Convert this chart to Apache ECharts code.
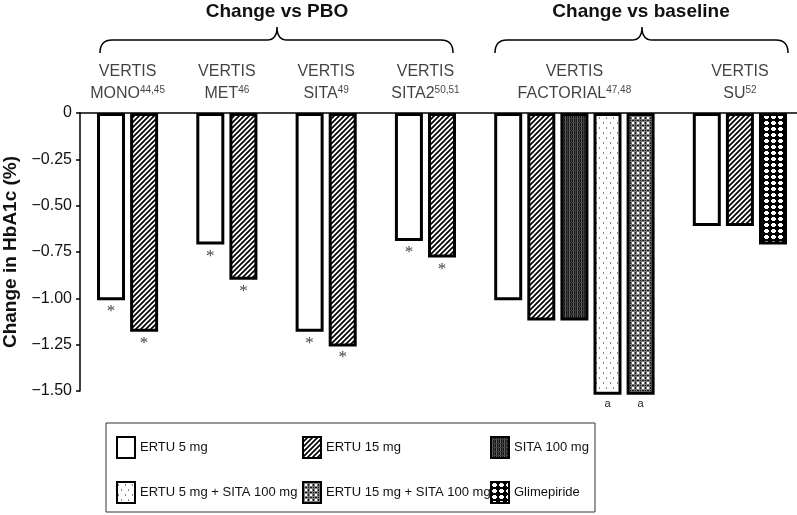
<!DOCTYPE html>
<html>
<head>
<meta charset="utf-8">
<script src="https://cdn.jsdelivr.net/npm/echarts@6/dist/echarts.min.js"></script>
<style>
  html, body { margin: 0; padding: 0; background: #fff; }
  #chart { width: 797px; height: 515px; }
</style>
</head>
<body>
<div id="chart"></div>
<script>
// study groups and their reference numbers
const groups = ['MONO', 'MET', 'SITA', 'SITA2', 'FACTORIAL', 'SU']
const groupRefs = ['44,45', '46', '49', '50,51', '47,48', '52']

// change in HbA1c (%) per treatment, one value per study (null = not in study)
const ertu5 = [-1.01, -0.71, -1.18, -0.69, -1.01, -0.61]
const ertu15 = [-1.18, -0.90, -1.26, -0.78, -1.12, -0.61]
const sita100 = [null, null, null, null, -1.12, null]
const ertu5Sita = [null, null, null, null, -1.52, null]
const ertu15Sita = [null, null, null, null, -1.52, null]
const glimepiride = [null, null, null, null, null, -0.71]

// marks shown under the bars
const ertu5Marks = ['*', '*', '*', '*', '', '']
const ertu15Marks = ['*', '*', '*', '*', '', '']
const comboMarks = ['', '', '', '', 'a', '']

const yTicks = [0, -0.25, -0.5, -0.75, -1, -1.25, -1.5]

const treatmentNames = ['ERTU 5 mg', 'ERTU 15 mg', 'SITA 100 mg', 'ERTU 5 mg + SITA 100 mg', 'ERTU 15 mg + SITA 100 mg', 'Glimepiride']
const treatmentValues = [ertu5, ertu15, sita100, ertu5Sita, ertu15Sita, glimepiride]
const treatmentMarks = [ertu5Marks, ertu15Marks, null, comboMarks, comboMarks, null]

// fill patterns
function makePattern(w, h, draw) {
  const c = document.createElement('canvas')
  c.width = w
  c.height = h
  const ctx = c.getContext('2d')
  draw(ctx)
  return { image: c, repeat: 'repeat' }
}
const patterns = [
  '#ffffff',
  makePattern(5, 5, ctx => {
    ctx.fillStyle = '#fff'
    ctx.fillRect(0, 0, 5, 5)
    ctx.strokeStyle = '#000'
    ctx.lineWidth = 1.7
    ctx.beginPath()
    ctx.moveTo(-1, 6); ctx.lineTo(6, -1)
    ctx.moveTo(-1, 1); ctx.lineTo(1, -1)
    ctx.moveTo(4, 6); ctx.lineTo(6, 4)
    ctx.stroke()
  }),
  makePattern(4, 4, ctx => {
    ctx.fillStyle = '#141414'
    ctx.fillRect(0, 0, 4, 4)
    ctx.fillStyle = '#666'
    ctx.fillRect(1, 0, 1, 4)
    ctx.fillStyle = '#3e3e3e'
    ctx.fillRect(3, 0, 1, 4)
    ctx.fillRect(0, 2, 4, 1)
  }),
  makePattern(7, 10, ctx => {
    ctx.fillStyle = '#fff'
    ctx.fillRect(0, 0, 7, 10)
    ctx.fillStyle = '#8a8a8a'
    ctx.fillRect(1, 2, 1, 2)
    ctx.fillRect(4, 7, 1, 2)
  }),
  makePattern(5, 5, ctx => {
    ctx.fillStyle = '#7d7d7d'
    ctx.fillRect(0, 0, 5, 5)
    ctx.fillStyle = '#fff'
    ctx.fillRect(2, 2, 2, 2)
    ctx.fillStyle = '#1a1a1a'
    ctx.fillRect(0, 0, 1, 1)
    ctx.fillRect(2, 0, 2, 1)
    ctx.fillRect(0, 2, 1, 2)
  }),
  makePattern(7, 6, ctx => {
    ctx.fillStyle = '#000'
    ctx.fillRect(0, 0, 7, 6)
    ctx.fillStyle = '#fff'
    ctx.fillRect(2, 1, 3, 4)
    ctx.fillRect(1, 2, 5, 2)
  })
]

// slot positions: bars side by side, one empty slot between studies
const slotOf = treatmentValues.map(() => [])
const groupCenter = []
let slot = 0
groups.forEach((g, gi) => {
  const first = slot
  treatmentValues.forEach((vals, si) => {
    if (vals[gi] != null) {
      slotOf[si][gi] = slot
      slot++
    }
  })
  groupCenter.push((first + slot - 1) / 2)
  slot++
})

// curly brace as a polyline (x1..x2 span, tip at xm)
function bracePoints(x1, xm, x2) {
  const pts = []
  const quad = (p0, p1, p2) => {
    for (let i = 0; i <= 8; i++) {
      const t = i / 8
      pts.push([
        (1 - t) * (1 - t) * p0[0] + 2 * (1 - t) * t * p1[0] + t * t * p2[0],
        (1 - t) * (1 - t) * p0[1] + 2 * (1 - t) * t * p1[1] + t * t * p2[1]
      ])
    }
  }
  quad([x1, 53], [x1, 40], [x1 + 12, 40])
  quad([xm - 10, 40], [xm, 40], [xm, 27])
  quad([xm, 27], [xm, 40], [xm + 10, 40])
  quad([x2 - 12, 40], [x2, 40], [x2, 53])
  return pts
}

const chart = echarts.init(document.getElementById('chart'), null, { renderer: 'canvas' })

const barSeries = treatmentNames.map((name, si) => {
  const isStar = si < 2
  return {
    name,
    type: 'bar',
    barWidth: 28,
    barGap: '-100%',
    clip: false,
    silent: true,
    itemStyle: { color: patterns[si], borderColor: '#000', borderWidth: 3 },
    label: {
      show: !!treatmentMarks[si],
      position: 'bottom',
      distance: isStar ? 3 : 4,
      fontFamily: isStar ? 'Liberation Serif' : 'Liberation Sans',
      fontSize: isStar ? 17 : 11,
      color: isStar ? '#444' : '#222',
      formatter: p => (treatmentMarks[si] ? treatmentMarks[si][p.data.gi] : '')
    },
    data: treatmentValues[si]
      .map((v, gi) => (v == null ? null : { value: [slotOf[si][gi], v], gi }))
      .filter(d => d)
  }
})

// one legend per entry, laid out in three columns and two rows
const legendCols = [116, 302, 490]
const legendRows = [436, 481]
const legends = treatmentNames.map((name, ti) => ({
  left: legendCols[ti % 3],
  top: legendRows[Math.floor(ti / 3)],
  itemWidth: 18,
  itemHeight: 21,
  icon: 'rect',
  selectedMode: false,
  padding: 0,
  itemStyle: { borderWidth: 2, borderColor: '#000' },
  textStyle: { fontFamily: 'Liberation Sans', fontSize: 13, color: '#111' },
  data: [name]
}))

const option = {
  animation: false,
  grid: { left: 80, right: 0, top: 113, bottom: 124, outerBoundsMode: 'none', containLabel: false },
  xAxis: {
    type: 'value',
    position: 'top',
    min: -0.937,
    max: 20.725,
    axisLine: { show: true, lineStyle: { color: '#000', width: 1.5 } },
    axisTick: { show: false },
    axisLabel: { show: false },
    splitLine: { show: false }
  },
  yAxis: {
    type: 'value',
    min: yTicks[yTicks.length - 1],
    max: yTicks[0],
    interval: 0.25,
    name: 'Change in HbA1c (%)',
    nameLocation: 'middle',
    nameGap: 54,
    nameTextStyle: { fontFamily: 'Liberation Sans', fontWeight: 'bold', fontSize: 19, color: '#111' },
    axisLine: { show: true, onZero: false, lineStyle: { color: '#000', width: 1.5 } },
    axisTick: { show: true, length: 4, lineStyle: { color: '#000', width: 1.5 } },
    axisLabel: {
      margin: 8,
      fontFamily: 'Liberation Sans',
      fontSize: 16,
      color: '#111',
      formatter: v => (v === 0 ? '0' : '\u2212' + Math.abs(v).toFixed(2))
    },
    splitLine: { show: false }
  },
  legend: legends,
  series: barSeries.concat([{
    type: 'scatter',
    silent: true,
    symbolSize: 1,
    clip: false,
    itemStyle: { color: 'rgba(0,0,0,0)' },
    label: {
      show: true,
      position: 'top',
      distance: 8,
      align: 'center',
      formatter: p => '{t|VERTIS}\n{t|' + groups[p.dataIndex] + '}{s|' + groupRefs[p.dataIndex] + '}',
      rich: {
        t: { fontFamily: 'Liberation Sans', fontSize: 16, lineHeight: 22, color: '#111' },
        s: { fontFamily: 'Liberation Sans', fontSize: 10, lineHeight: 22, color: '#111', verticalAlign: 'top', padding: [3, 0, 0, 0] }
      }
    },
    data: groupCenter.map(c => [c, 0])
  }]),
  graphic: [
    {
      type: 'rect',
      silent: true,
      shape: { x: 106, y: 423, width: 489, height: 89 },
      style: { fill: 'none', stroke: '#333', lineWidth: 1 }
    },
    {
      type: 'polyline',
      silent: true,
      shape: { points: bracePoints(100, 277, 453) },
      style: { fill: 'none', stroke: '#000', lineWidth: 1.5 }
    },
    {
      type: 'polyline',
      silent: true,
      shape: { points: bracePoints(495, 642, 788) },
      style: { fill: 'none', stroke: '#000', lineWidth: 1.5 }
    },
    {
      type: 'text',
      silent: true,
      x: 277, y: 12,
      style: { text: 'Change vs PBO', fontFamily: 'Liberation Sans', fontWeight: 'bold', fontSize: 19, fill: '#111', align: 'center', verticalAlign: 'middle' }
    },
    {
      type: 'text',
      silent: true,
      x: 641, y: 12,
      style: { text: 'Change vs baseline', fontFamily: 'Liberation Sans', fontWeight: 'bold', fontSize: 19, fill: '#111', align: 'center', verticalAlign: 'middle' }
    }
  ]
}

chart.setOption(option)
</script>
</body>
</html>
